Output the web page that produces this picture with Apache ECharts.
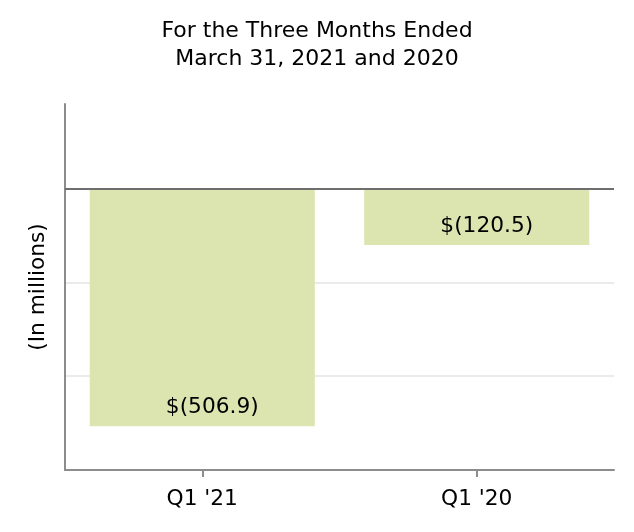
<!DOCTYPE html>
<html><head><meta charset="utf-8">
<script src="https://cdn.jsdelivr.net/npm/echarts@6/dist/echarts.min.js"></script>
<style>html,body{margin:0;padding:0;background:#fff}#c{width:634px;height:532px}</style>
</head><body><div id="c"></div>
<script>
var categories = ["Q1 '21", "Q1 '20"];
var values = [-506.9, -120.5];
var titleLines = ["For the Three Months Ended", "March 31, 2021 and 2020"];
var yAxisName = "(In millions)";

var FONT = "DejaVu Sans";
var chart = echarts.init(document.getElementById('c'), null, {renderer: 'canvas'});
chart.setOption({
  animation: false,
  backgroundColor: '#ffffff',
  title: {
    text: titleLines.join('\n'),
    left: 'center', top: 12,
    textStyle: {fontFamily: FONT, fontSize: 22, fontWeight: 'normal', color: '#000', lineHeight: 28}
  },
  grid: {left: 65, right: 20, top: 104, bottom: 62, containLabel: false},
  xAxis: {
    type: 'category', data: categories, position: 'bottom',
    axisLine: {onZero: false, lineStyle: {color: '#8c8c8c', width: 2}},
    axisTick: {show: true, alignWithLabel: true, length: 7, lineStyle: {color: '#8c8c8c', width: 2}},
    axisLabel: {fontFamily: FONT, fontSize: 21.7, color: '#000', margin: 18},
    splitLine: {show: false}
  },
  yAxis: {
    type: 'value', min: -600, max: 180, interval: 200,
    name: yAxisName, nameLocation: 'middle', nameGap: 16,
    nameTextStyle: {fontFamily: FONT, fontSize: 21.7, color: '#000'},
    axisLine: {show: true, lineStyle: {color: '#8c8c8c', width: 2}},
    axisTick: {show: false},
    axisLabel: {show: false},
    splitLine: {show: true, lineStyle: {color: ['transparent', '#ebebeb', '#ebebeb', 'transparent', 'transparent'], width: 2}}
  },
  series: [{
    type: 'bar', data: values, barCategoryGap: '18%',
    itemStyle: {color: '#dce5b0'},
    label: {
      show: true, position: 'insideBottom', distance: 8, offset: [10, 0],
      fontFamily: FONT, fontSize: 21.7, color: '#000',
      formatter: function (p) { return '$(' + Math.abs(p.value).toFixed(1) + ')'; }
    },
    markLine: {
      silent: true, symbol: 'none', label: {show: false},
      lineStyle: {color: '#6e6e6e', width: 2, type: 'solid'},
      data: [{yAxis: 0}]
    }
  }]
});
</script></body></html>
